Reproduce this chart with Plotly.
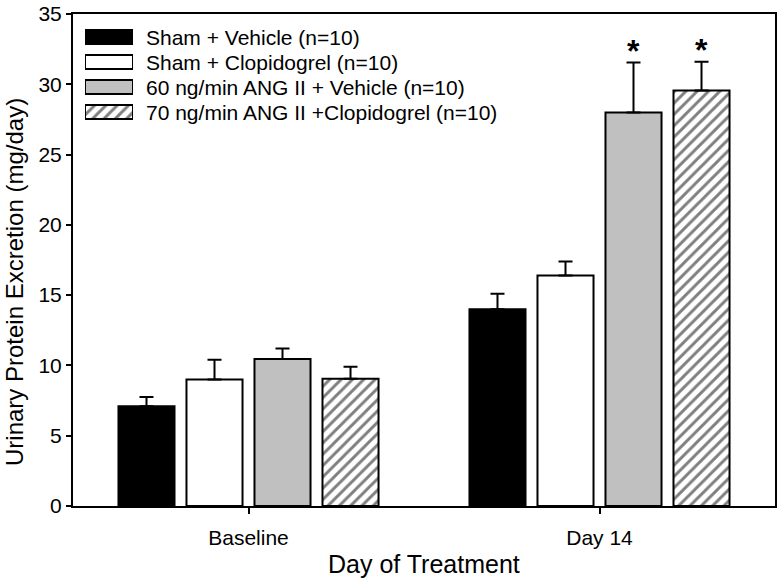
import plotly.graph_objects as go

categories = ["Baseline", "Day 14"]
series_names = [
    "Sham + Vehicle (n=10)",
    "Sham + Clopidogrel (n=10)",
    "60 ng/min ANG II + Vehicle (n=10)",
    "70 ng/min ANG II +Clopidogrel (n=10)",
]
means = [
    [7.1, 14.0],
    [9.0, 16.4],
    [10.45, 28.0],
    [9.05, 29.55],
]
errors = [
    [0.65, 1.1],
    [1.4, 1.0],
    [0.75, 3.55],
    [0.85, 2.05],
]
significant = [
    [False, False],
    [False, False],
    [False, True],
    [False, True],
]
y_ticks = [0, 5, 10, 15, 20, 25, 30, 35]

fills = ["black", "white", "#c0c0c0", "white"]
patterns = ["", "", "", "/"]

FONT = "Liberation Sans, Arial, sans-serif"
BARGAP = 0.225

W, H = 780, 582
# plot-area edges in page pixels (page body margin removed below)
SX0, SX1, SY0, SY1 = 73, 775, 14, 506
L, T, R, B = SX0, SY0, W - SX1, H - SY1
pw, ph = SX1 - SX0, SY1 - SY0


def px(sx):
    return (sx - SX0) / pw


def py(sy):
    return (SY1 - sy) / ph


def make_marker(i):
    m = dict(color=fills[i], line=dict(color="black", width=2))
    if patterns[i]:
        m["pattern"] = dict(shape=patterns[i], fgcolor="black", bgcolor="white",
                            size=8, solidity=0.36)
    return m


fig = go.Figure()
for i, name in enumerate(series_names):
    fig.add_trace(go.Bar(
        x=categories, y=means[i], name=name, marker=make_marker(i),
        error_y=dict(type="data", symmetric=False, array=errors[i],
                     arrayminus=[0] * len(errors[i]), color="black",
                     thickness=2, width=7),
        showlegend=False,
    ))

# legend swatches (drawn as a small bar chart on an overlay axis)
for i, name in enumerate(series_names):
    fig.add_trace(go.Bar(
        x=[1], y=[i], orientation="h", marker=make_marker(i), width=0.56,
        xaxis="x2", yaxis="y2", showlegend=False, hoverinfo="skip",
    ))
    fig.add_annotation(
        x=px(144), y=i, xref="paper", yref="y2", text=name, showarrow=False,
        xanchor="left", yanchor="middle", font=dict(size=21, color="black", family=FONT),
    )

slot = (1 - BARGAP) / len(series_names)
for i in range(len(series_names)):
    for j, cat in enumerate(categories):
        if significant[i][j]:
            fig.add_annotation(
                x=j + (i - 1.5) * slot, y=means[i][j] + errors[i][j],
                xref="x", yref="y", text="<b>*</b>", showarrow=False,
                yanchor="bottom", yshift=-8,
                font=dict(size=32, color="black", family=FONT),
            )

# axis titles
fig.add_annotation(x=0.5, y=py(564), xref="paper", yref="paper", text="Day of Treatment",
                   xanchor="center", yanchor="middle",
                   showarrow=False, font=dict(size=25, family=FONT, color="black"))
fig.add_annotation(x=px(14), y=py(282), xref="paper", yref="paper",
                   text="Urinary Protein Excretion (mg/day)", textangle=-90,
                   xanchor="center", yanchor="middle",
                   showarrow=False, font=dict(size=24, family=FONT, color="black"))

fig.update_layout(
    width=W, height=H,
    margin=dict(l=L, r=R, t=T, b=B),
    paper_bgcolor="white", plot_bgcolor="white",
    barmode="group", bargap=BARGAP, bargroupgap=0.176,
    font=dict(family=FONT, size=21, color="black"),
    showlegend=False,
    xaxis=dict(range=[-0.5, 1.5], showline=True, linecolor="black", linewidth=2,
               mirror=True, ticks="outside", ticklen=6, tickwidth=1.5, tickcolor="black",
               tickfont=dict(size=21), automargin=False, ticklabelstandoff=6,
               ticklabeloverflow="allow"),
    yaxis=dict(range=[0, 35], tickvals=y_ticks, showline=True, linecolor="black",
               linewidth=2, mirror=True, ticks="outside", ticklen=5, tickwidth=1.5,
               tickcolor="black", showgrid=False, zeroline=False,
               tickfont=dict(size=21), automargin=False, ticklabeloverflow="allow"),
    xaxis2=dict(domain=[px(85), px(133)], range=[0, 1], visible=False, fixedrange=True),
    yaxis2=dict(domain=[py(124.5), py(24.5)], range=[3.5, -0.5],
                visible=False, fixedrange=True),
)

fig.write_html("out.html", config={"displayModeBar": False},
               post_script="document.body.style.margin='0';")
